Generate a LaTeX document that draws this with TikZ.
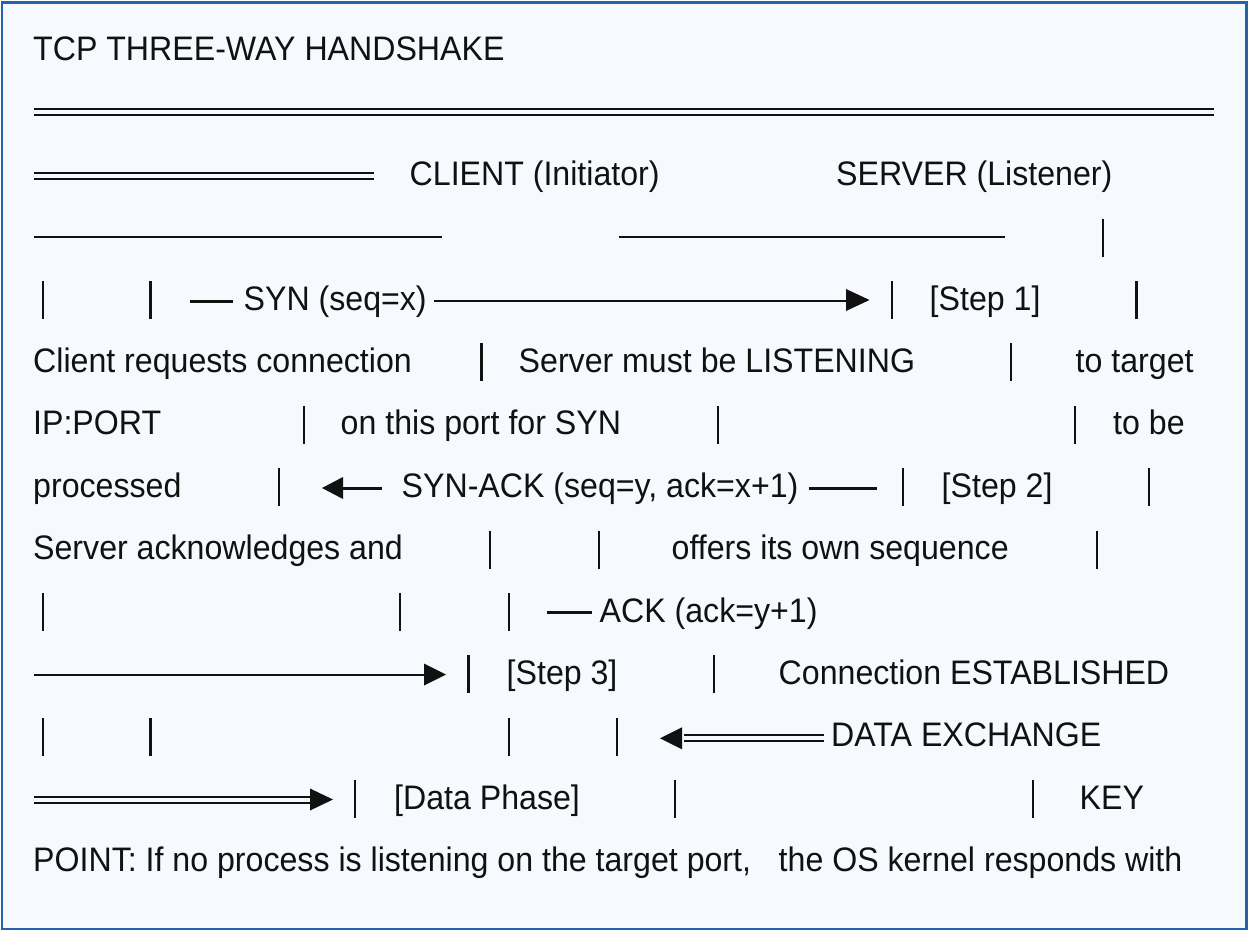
\documentclass[tikz,border=0pt]{standalone}
\usepackage{fontspec}
\setmainfont[FakeStretch=0.945]{Liberation Sans}
\definecolor{ink}{RGB}{17,17,17}
\definecolor{frame}{RGB}{38,98,170}
\definecolor{paper}{RGB}{246,249,254}
\newcommand\vb[2]{\draw[vbarline] ({#1},{#2-29}) -- ({#1},{#2+9});}
\newcommand\rtip[3]{\fill[ink] ({#1},{#3-11}) -- ({#2},{#3}) -- ({#1},{#3+11}) -- cycle;}
\newcommand\ltip[3]{\fill[ink] ({#2},{#3-11}) -- ({#1},{#3}) -- ({#2},{#3+11}) -- cycle;}
\newcommand\dbl[3]{\draw[rule] ({#1},{#3-3}) -- ({#2},{#3-3}); \draw[rule] ({#1},{#3+3}) -- ({#2},{#3+3});}
\begin{document}
\begin{tikzpicture}[x=1pt,y=-1pt,
  txt/.style={anchor=base west, inner sep=0pt, font=\fontsize{34}{40}\selectfont, text=ink},
  rule/.style={line width=2.2pt, draw=ink},
  vbarline/.style={line width=2.4pt, draw=ink}]
\useasboundingbox (0,0) rectangle (1249,931);
\draw[line width=2.5pt, draw=frame, fill=paper] (2,2.5) rectangle (1246.5,929);
% row 1
\node[txt] (title) at (33,60.4) {TCP THREE-WAY HANDSHAKE};
% row 2
\dbl{33.6}{1213.7}{112}
% row 3
\dbl{33.6}{373.7}{175.7}
\node[txt] (client) at (409.5,185.2) {CLIENT (Initiator)};
\node[txt] (server) at (836,185.2) {SERVER (Listener)};
% row 4
\draw[rule] (33.6,236.7) -- (442,236.7);
\draw[rule] (619,236.7) -- (1005,236.7);
\vb{1103}{247.6}
% row 5
\vb{42.7}{310}
\vb{150.3}{310}
\draw[rule] (190,301.5) -- (233,301.5);
\node[txt] (syn) at (243.5,310) {SYN (seq=x)};
\draw[rule] (434,301) -- (846,301);
\rtip{846}{869.5}{300}
\vb{892}{310}
\node[txt] (step1) at (929.5,310) {[Step 1]};
\vb{1136.6}{310}
% row 6
\node[txt] (r6a) at (33,372.4) {Client requests connection};
\vb{481.6}{372.4}
\node[txt] (r6b) at (518.5,372.4) {Server must be LISTENING};
\vb{1011}{372.4}
\node[txt] (r6c) at (1075.5,372.4) {to target};
% row 7
\node[txt] (r7a) at (33,434.8) {IP:PORT};
\vb{303.7}{434.8}
\node[txt] (r7b) at (340.5,434.8) {on this port for SYN};
\vb{718}{434.8}
\vb{1075}{434.8}
\node[txt] (r7c) at (1113,434.8) {to be};
% row 8
\node[txt] (r8a) at (33,497.2) {processed};
\vb{279}{497.2}
\ltip{322}{343}{488}
\draw[rule] (342,488.5) -- (381.6,488.5);
\node[txt] (synack) at (401.5,497.2) {SYN-ACK (seq=y, ack=x+1)};
\draw[rule] (808.5,488.5) -- (876.7,488.5);
\vb{903}{497.2}
\node[txt] (step2) at (941.5,497.2) {[Step 2]};
\vb{1149}{497.2}
% row 9
\node[txt] (r9a) at (33,559.6) {Server acknowledges and};
\vb{490}{559.6}
\vb{599}{559.6}
\node[txt] (r9b) at (671.5,559.6) {offers its own sequence};
\vb{1097}{559.6}
% row 10
\vb{42.7}{622}
\vb{400}{622}
\vb{509}{622}
\draw[rule] (547,612.5) -- (592,612.5);
\node[txt] (ack) at (599.5,622) {ACK (ack=y+1)};
% row 11
\draw[rule] (33.6,675) -- (424,675);
\rtip{424}{446}{674.5}
\vb{468.6}{684.4}
\node[txt] (step3) at (506.5,684.4) {[Step 3]};
\vb{714}{684.4}
\node[txt] (est) at (778.5,684.4) {Connection ESTABLISHED};
% row 12
\vb{42.7}{746.8}
\vb{150.3}{746.8}
\vb{509}{746.8}
\vb{617}{746.8}
\ltip{660}{682}{738.3}
\dbl{684}{824}{738.3}
\node[txt] (data) at (831,746.8) {DATA EXCHANGE};
% row 13
\dbl{33.6}{310}{799.7}
\rtip{310}{333}{799.5}
\vb{354.7}{809.2}
\node[txt] (phase) at (394,809.2) {[Data Phase]};
\vb{675}{809.2}
\vb{1033}{809.2}
\node[txt] (key) at (1079.5,809.2) {KEY};
% row 14
\node[txt] (r14a) at (33,871.6) {POINT: If no process is listening on the target port,};
\node[txt] (r14b) at (778.5,871.6) {the OS kernel responds with};
\end{tikzpicture}
\end{document}
